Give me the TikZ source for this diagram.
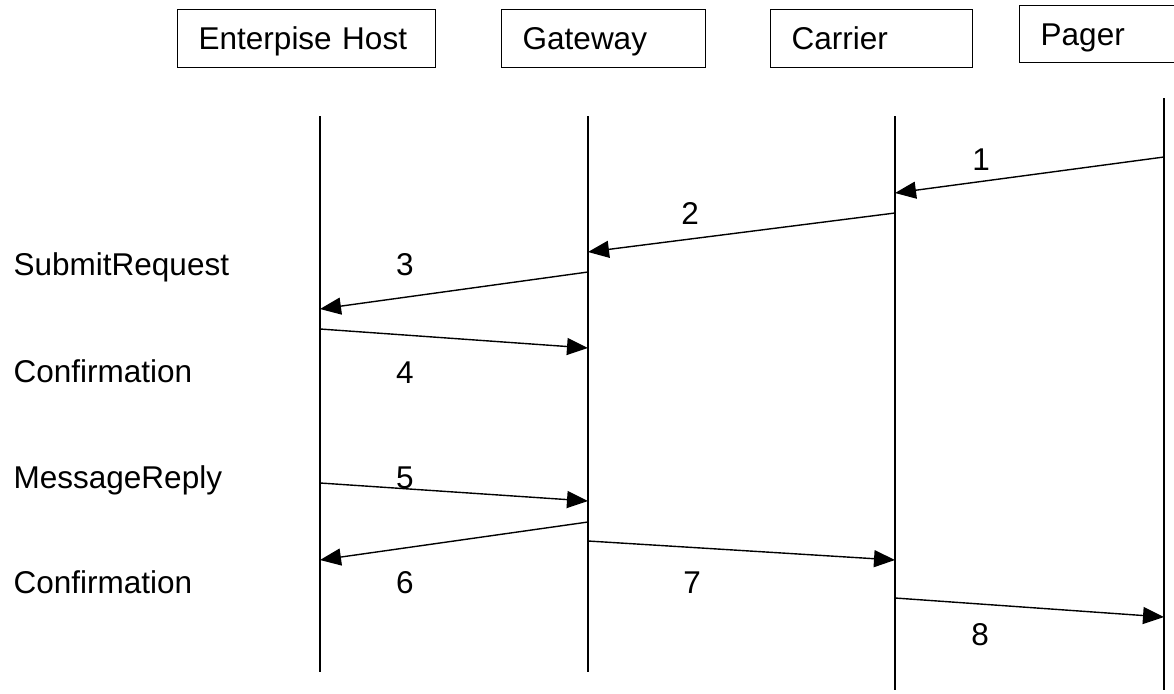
\documentclass[tikz,border=0pt]{standalone}
\usepackage{fontspec}
\setmainfont{Liberation Sans}
\usetikzlibrary{arrows.meta}
\begin{document}
\begin{tikzpicture}[x=1pt,y=-1pt,
  line width=1.4pt,
  font=\fontsize{31.5}{38}\selectfont,
  box/.style={draw, line width=1.4pt, anchor=north west, minimum height=58pt,
    inner xsep=21pt, inner ysep=0pt, align=left, text height=22pt, text depth=0pt},
  msg/.style={-{Triangle[length=21pt,width=17pt]}, line width=1.4pt},
  life/.style={line width=1.4pt},
  lbl/.style={anchor=base, inner sep=0pt},
  side/.style={anchor=base west, inner sep=0pt}]
\useasboundingbox (0,0) rectangle (1174,693);

% participant boxes
\node[box, text width=216pt] (eh) at (177,9) {Enterpise Host};
\node[box, text width=162pt] (gw) at (501,9) {Gateway};
\node[box, text width=160pt] (ca) at (770,9) {Carrier};
\node[box, text width=158pt, minimum height=57pt] (pg) at (1019,5) {Pager};

% lifelines
\coordinate (ehT) at (320,116); \coordinate (ehB) at (320,672);
\coordinate (gwT) at (588,116); \coordinate (gwB) at (588,672);
\coordinate (caT) at (895,116); \coordinate (caB) at (895,690);
\coordinate (pgT) at (1164,98); \coordinate (pgB) at (1164,690);
\draw[life] (ehT) -- (ehB);
\draw[life] (gwT) -- (gwB);
\draw[life] (caT) -- (caB);
\draw[life] (pgT) -- (pgB);

% message end points
\coordinate (m1s) at (1164,157); \coordinate (m1e) at (895,193);
\coordinate (m2s) at (895,213);  \coordinate (m2e) at (588,252);
\coordinate (m3s) at (588,272);  \coordinate (m3e) at (320,309);
\coordinate (m4s) at (320,329);  \coordinate (m4e) at (588,348);
\coordinate (m5s) at (320,483);  \coordinate (m5e) at (588,501);
\coordinate (m6s) at (588,522);  \coordinate (m6e) at (320,560);
\coordinate (m7s) at (588,541);  \coordinate (m7e) at (895,560);
\coordinate (m8s) at (895,598);  \coordinate (m8e) at (1164,617);

\draw[msg] (m1s) -- (m1e);
\draw[msg] (m2s) -- (m2e);
\draw[msg] (m3s) -- (m3e);
\draw[msg] (m4s) -- (m4e);
\draw[msg] (m5s) -- (m5e);
\draw[msg] (m6s) -- (m6e);
\draw[msg] (m7s) -- (m7e);
\draw[msg] (m8s) -- (m8e);

% message numbers
\node[lbl] (n1) at (981,170) {1};
\node[lbl] (n2) at (690,224) {2};
\node[lbl] (n3) at (405,275) {3};
\node[lbl] (n4) at (405,383) {4};
\node[lbl] (n5) at (405,488) {5};
\node[lbl] (n6) at (405,593) {6};
\node[lbl] (n7) at (692,593) {7};
\node[lbl] (n8) at (980,645) {8};

% side labels
\node[side] (t1) at (13,275) {SubmitRequest};
\node[side] (t2) at (13,382) {Confirmation};
\node[side] (t3) at (13,488) {MessageReply};
\node[side] (t4) at (13,593) {Confirmation};
\end{tikzpicture}
\end{document}
